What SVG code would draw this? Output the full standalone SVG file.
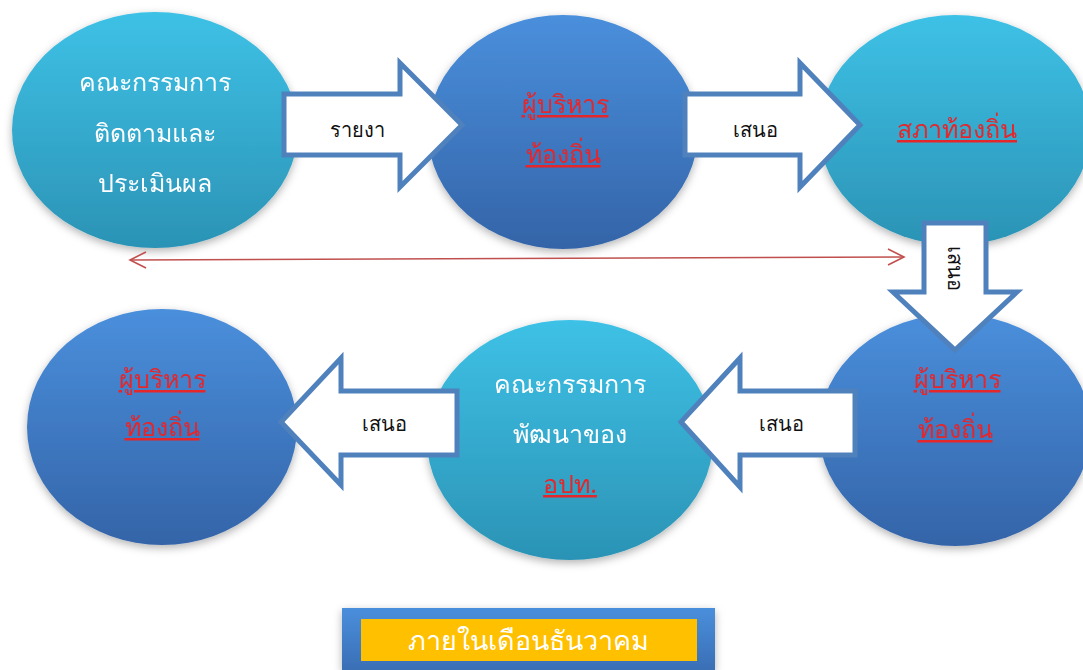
<svg xmlns="http://www.w3.org/2000/svg" width="1083" height="670" viewBox="0 0 1083 670">
<defs>
<linearGradient id="gc" x1="0" y1="0" x2="0" y2="1"><stop offset="0" stop-color="#3ec1e6"/><stop offset="1" stop-color="#2b93b5"/></linearGradient>
<linearGradient id="gb" x1="0" y1="0" x2="0" y2="1"><stop offset="0" stop-color="#4a8fdc"/><stop offset="1" stop-color="#3464a8"/></linearGradient>
<linearGradient id="gbox" x1="0" y1="0" x2="0" y2="1"><stop offset="0" stop-color="#4a8fdc"/><stop offset="1" stop-color="#3a6fb5"/></linearGradient>
<filter id="sh" x="-20%" y="-20%" width="140%" height="140%"><feDropShadow dx="0" dy="3" stdDeviation="4" flood-color="#000" flood-opacity="0.3"/></filter>
<marker id="ah" viewBox="0 0 20 20" refX="18" refY="10" markerWidth="20" markerHeight="20" markerUnits="userSpaceOnUse" orient="auto-start-reverse"><path d="M2,2 L18,10 L2,18" fill="none" stroke="#c0504d" stroke-width="1.6"/></marker>
<style>
.arr{fill:#fff;stroke:#4f81bd;stroke-width:5;stroke-linejoin:miter}
.w{fill:#fff;font-family:"Noto Sans","DejaVu Sans",sans-serif;font-size:25px;text-anchor:middle}
.r{fill:#e5262b;font-family:"Noto Sans","DejaVu Sans",sans-serif;font-size:25px;text-anchor:middle;text-decoration:underline}
.k{fill:#111;font-family:"Noto Sans","DejaVu Sans",sans-serif;font-size:20px;text-anchor:middle}
.t{fill:#fff;font-family:"Noto Sans","DejaVu Sans",sans-serif;font-size:27px;font-style:normal;font-weight:normal;text-anchor:middle}
</style>
</defs>
<g id="n1" filter="url(#sh)"><ellipse cx="155" cy="130" rx="143" ry="118" fill="url(#gc)"/>
<text class="w" x="155" y="91">คณะกรรมการ</text><text class="w" x="155" y="142">ติดตามและ</text><text class="w" x="155" y="192">ประเมินผล</text></g>
<g id="n2" filter="url(#sh)"><ellipse cx="563" cy="132" rx="135" ry="117" fill="url(#gb)"/>
<text class="r" x="565" y="113">ผู้บริหาร</text><text class="r" x="563" y="163">ท้องถิ่น</text></g>
<g id="n3" filter="url(#sh)"><ellipse cx="955" cy="130" rx="136" ry="115" fill="url(#gc)"/>
<text class="r" x="957" y="138">สภาท้องถิ่น</text></g>
<g id="n4" filter="url(#sh)"><ellipse cx="162" cy="427" rx="135" ry="118" fill="url(#gb)"/>
<text class="r" x="162" y="388">ผู้บริหาร</text><text class="r" x="162" y="436">ท้องถิ่น</text></g>
<g id="n5" filter="url(#sh)"><ellipse cx="570" cy="440" rx="143" ry="120" fill="url(#gc)"/>
<text class="w" x="570" y="393">คณะกรรมการ</text><text class="w" x="570" y="443">พัฒนาของ</text><text class="r" x="570" y="493">อปท.</text></g>
<g id="n6" filter="url(#sh)"><ellipse cx="955" cy="430" rx="136" ry="116" fill="url(#gb)"/>
<text class="r" x="957" y="388">ผู้บริหาร</text><text class="r" x="955" y="438">ท้องถิ่น</text></g>
<g id="connectors">
<path class="arr" d="M284,94 L400,94 L400,63 L462,125 L400,187 L400,155 L284,155 Z"/>
<text class="k" x="357" y="137">รายงา</text>
<path class="arr" d="M685,94 L800,94 L800,63 L860,125 L800,187 L800,155 L685,155 Z"/>
<text class="k" x="755" y="137">เสนอ</text>
<path class="arr" d="M924,223 L986,223 L986,292 L1017,292 L955,350 L893,292 L924,292 Z"/>
<text class="k" transform="translate(948,268) rotate(90)">เสนอ</text>
<path class="arr" d="M457,391 L341,391 L341,358 L281,422 L341,485 L341,455 L457,455 Z"/>
<text class="k" x="384" y="431">เสนอ</text>
<path class="arr" d="M855,391 L740,391 L740,358 L681,422 L740,487 L740,455 L855,455 Z"/>
<text class="k" x="781" y="431">เสนอ</text>
<line x1="130" y1="260" x2="904" y2="257" stroke="#c0504d" stroke-width="1.6" marker-start="url(#ah)" marker-end="url(#ah)"/>
</g>
<g id="box">
<rect x="342" y="608" width="373" height="62" fill="url(#gbox)" filter="url(#sh)"/>
<rect x="361" y="619" width="336" height="42" fill="#ffc000"/>
<text class="t" x="528" y="650">ภายในเดือนธันวาคม</text>
</g>
</svg>
